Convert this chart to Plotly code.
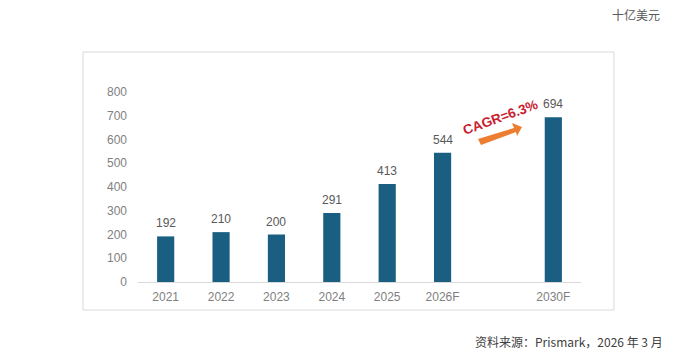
import plotly.graph_objects as go

categories = ["2021", "2022", "2023", "2024", "2025", "2026F", " ", "2030F"]
values = [192, 210, 200, 291, 413, 544, None, 694]
labels = ["192", "210", "200", "291", "413", "544", "", "694"]
y_ticks = [0, 100, 200, 300, 400, 500, 600, 700, 800]

W, H = 692, 358
L, R, T, B = 138, 581, 92, 282  # plot area in px

def px(x, y):
    return (x - L) / (R - L), (B - y) / (B - T)

fig = go.Figure()
fig.add_trace(go.Bar(
    x=categories, y=values,
    marker=dict(color="#1a5f82", line=dict(width=0)),
    width=0.31, hoverinfo="skip",
))

# outer box
x0, y0 = px(83, 52)
x1, y1 = px(614, 310)
shapes = [dict(type="rect", xref="paper", yref="paper", x0=x0, y0=y1, x1=x1, y1=y0,
               line=dict(color="#d9d9d9", width=1), fillcolor="rgba(0,0,0,0)", layer="below")]

# orange block arrow
pts = [(478, 139), (514, 128), (512, 123), (522, 127), (517, 136), (516, 132), (481, 145)]
path = "M " + " L ".join("%f,%f" % px(a, b) for a, b in pts) + " Z"
shapes.append(dict(type="path", xref="paper", yref="paper", path=path,
                   fillcolor="#ed7d31", line=dict(width=0)))

ann = []
for i, (v, t) in enumerate(zip(values, labels)):
    if v is None:
        continue
    ann.append(dict(x=i, y=v, xref="x", yref="y", text=t, showarrow=False,
                    xanchor="center", yanchor="bottom", yshift=4,
                    font=dict(color="#595959", size=12, family="Liberation Sans, Arial")))

cx, cy = px(500, 117)
ann.append(dict(x=cx, y=cy, xref="paper", yref="paper", text="<b>CAGR=6.3%</b>",
                showarrow=False, textangle=-20, xanchor="center", yanchor="middle",
                font=dict(color="#c8202f", size=13.5, family="Liberation Sans, Arial")))
ax_, ay_ = px(662, 14)
ann.append(dict(x=ax_, y=ay_, xref="paper", yref="paper", text="十亿美元", showarrow=False,
                xanchor="right", yanchor="middle",
                font=dict(color="#595959", size=12, family="Noto Sans CJK SC")))
sx, sy = px(665, 341)
ann.append(dict(x=sx, y=sy, xref="paper", yref="paper",
                text="资料来源：Prismark，2026 年 3 月", showarrow=False,
                xanchor="right", yanchor="middle",
                font=dict(color="#404040", size=12, family="Noto Sans CJK SC")))

fig.update_layout(
    width=W, height=H, autosize=False,
    margin=dict(l=L, r=W - R, t=T, b=H - B),
    paper_bgcolor="white", plot_bgcolor="white",
    showlegend=False, bargap=0.67,
    shapes=shapes, annotations=ann,
    xaxis=dict(type="category", categoryorder="array", categoryarray=categories,
               range=[-0.5, len(categories) - 0.5],
               showgrid=False, showline=True, linecolor="#d9d9d9", linewidth=1,
               ticks="", ticklabelstandoff=4,
               tickfont=dict(color="#7f7f7f", size=12, family="Liberation Sans, Arial"),
               fixedrange=True),
    yaxis=dict(range=[0, 800], tickvals=y_ticks, showgrid=False, showline=False,
               zeroline=False, ticks="", ticklabelstandoff=10,
               tickfont=dict(color="#7f7f7f", size=12, family="Liberation Sans, Arial"),
               fixedrange=True),
)

fig.write_html("out.html", config={"displayModeBar": False},
               post_script="document.body.style.margin='0';document.body.style.overflow='hidden';")
